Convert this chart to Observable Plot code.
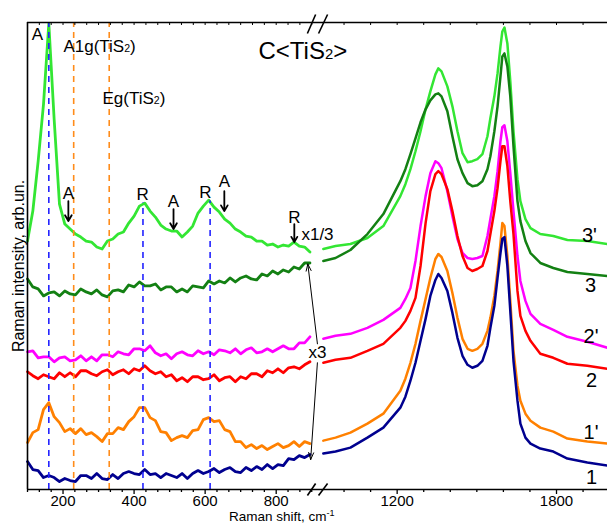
<!DOCTYPE html>
<html><head><meta charset="utf-8">
<script src="https://cdn.jsdelivr.net/npm/d3@7"></script>
<script src="https://cdn.jsdelivr.net/npm/@observablehq/plot@0.6"></script>
<style>
html,body{margin:0;padding:0;background:#fff;overflow:hidden;}
#chart{position:relative;width:607px;height:524px;font-family:"Liberation Sans",Arial,sans-serif;color:#000;}
#chart svg{position:absolute;top:0;overflow:visible;}
#xtitle{position:absolute;left:229px;top:510px;font-size:13.5px;white-space:nowrap;line-height:13px;}
#xtitle sup{font-size:9px;vertical-align:5px;line-height:0;}
</style></head><body><div id="chart"><div id="xtitle">Raman shift, cm<sup>-1</sup></div></div>
<script>
// ---- series ----
const seriesNames = ["3'", "3", "2'", "2", "1'", "1"];
const seriesColors = ["#33e633", "#138013", "#ff00ff", "#ff0000", "#ff8000", "#00008f"];

// left panel, Raman shift (cm-1)
const shiftLeft = [100,115,130,145,160,175,190,205,220,235,250,265,280,295,310,325,340,355,370,385,400,415,430,445,460,475,490,505,520,535,550,565,580,595,610,625,640,655,670,685,700,715,730,745,760,775,790,805,820,835,850,865,880,895];
const int3pLeft = [249,279,329,386,467,371,286,266,261,256,253,249,248,243,241,249,251,256,258,267,274,284,287,279,273,265,261,259,259,253,258,264,277,284,290,283,278,271,267,261,258,254,253,249,249,245,246,243,245,244,248,244,243,238];
const int3Left = [211,203,201,194,197,198,194,199,196,195,201,198,196,200,195,193,199,200,198,205,203,208,204,204,206,200,203,203,198,201,198,204,203,202,209,206,209,207,212,208,212,214,211,210,216,214,219,216,220,218,223,221,227,227];
const int2pLeft = [138,139,132,133,133,128,132,133,129,130,134,129,133,129,135,135,133,138,136,135,141,141,139,144,137,134,136,131,136,138,135,134,139,136,138,135,140,139,137,141,136,140,142,137,138,141,138,141,144,141,141,147,147,153];
const int2Left = [118,114,111,115,113,111,117,113,117,113,119,119,116,114,118,120,115,118,120,116,121,119,124,119,116,118,113,115,109,112,108,113,113,110,111,115,109,112,113,108,113,111,116,116,113,119,117,121,117,122,123,121,125,128];
const int1pLeft = [47,57,60,80,87,73,67,58,61,56,61,55,57,53,48,56,56,62,60,68,73,82,82,72,69,58,57,49,52,54,52,59,60,70,72,68,69,60,58,48,48,42,45,41,44,40,43,46,42,44,48,43,48,46];
const int1Left = [28,20,19,12,14,12,8,11,9,8,14,14,11,16,11,10,15,11,16,18,16,15,20,15,16,12,16,14,12,16,11,16,19,16,18,21,17,20,22,18,17,22,19,23,20,25,21,25,24,31,30,34,32,35];

// right panel, Raman shift (cm-1)
const shiftRight = [922,968,1024,1088,1148,1212,1231,1250,1269,1288,1307,1325,1344,1355,1367,1389,1408,1427,1446,1465,1483,1502,1521,1540,1551,1566,1578,1589,1596,1604,1615,1626,1638,1653,1664,1683,1702,1739,1788,1841,1916,1992];
const int3pRight = [241,244,246,252,264,294,306,321,339,359,381,399,416,422,419,404,384,359,337,328,329,331,336,354,372,394,417,444,459,463,447,409,359,311,289,271,262,256,254,250,249,246];
const int3Right = [229,232,240,256,276,309,321,336,352,368,381,390,396,397,394,379,354,331,317,307,304,305,309,321,334,359,384,414,434,437,424,394,344,289,269,249,237,227,222,218,216,214];
const int2pRight = [151,154,156,162,170,182,191,202,229,264,294,317,329,327,322,299,274,251,237,232,231,232,234,254,271,294,319,349,363,365,349,317,279,234,209,189,176,166,160,153,148,142];
const int2Right = [127,130,132,139,146,162,169,179,192,224,267,299,316,319,316,301,279,254,234,222,219,221,224,239,256,279,302,329,344,344,324,289,256,199,174,159,149,136,132,126,124,121];
const int1pRight = [49,52,57,66,76,99,111,127,146,169,191,212,231,236,233,219,197,172,151,141,139,141,146,159,172,194,219,247,267,264,234,189,139,104,89,76,69,62,58,51,48,46];
const int1Right = [36,38,42,52,62,82,93,109,127,149,171,194,210,216,212,199,177,152,134,125,122,124,129,144,162,184,212,237,251,253,224,179,129,89,66,52,46,41,38,31,27,24];

// ticks
const leftMajorTicks = [200, 400, 600, 800];
const leftMinorTicks = [100,133.33,166.67,233.33,266.67,300,333.33,366.67,433.33,466.67,500,533.33,566.67,633.33,666.67,700,733.33,766.67,833.33,866.67,900];
const rightMajorTicks = [1200, 1800];
const rightMinorTicks = [1000,1100,1300,1400,1500,1600,1700,1900];

// reference lines (cm-1) and the height they reach
const blueLines = [160, 425, 614];
const blueLineTops = [468, 287, 289];
const orangeLines = [230, 330];

// annotations
const peakLabels = ["A", "R", "A", "R", "A", "R"];
const peakLabelX = [215, 424, 511, 601, 654, 851];
const peakLabelY = [297, 296, 289, 298, 309, 273];
const arrowX = [215, 511, 654, 851];
const arrowTop = [289, 281, 299, 266];
const arrowBottom = [269, 261, 279, 248];
const curveLabelX = [1924, 1928, 1930, 1932, 1930, 1932];
const curveLabelY = [254, 204, 153, 109, 57, 12];

const font = '"Liberation Sans", Arial, sans-serif';
const yDomain = [0, 468];
const color = {type: "ordinal", domain: seriesNames, range: seriesColors};

const leftSeries = [int3pLeft, int3Left, int2pLeft, int2Left, int1pLeft, int1Left];
const rightSeries = [int3pRight, int3Right, int2pRight, int2Right, int1pRight, int1Right];
const leftRows = seriesNames.flatMap((s, i) => shiftLeft.map((x, j) => ({shift: x, intensity: leftSeries[i][j], series: s})));
const rightRows = seriesNames.flatMap((s, i) => shiftRight.map((x, j) => ({shift: x, intensity: rightSeries[i][j], series: s})));

const blueRows = blueLines.map((x, i) => ({x, top: blueLineTops[i]}));
const peakRows = peakLabels.map((t, i) => ({text: t, x: peakLabelX[i], y: peakLabelY[i]}));
const arrowRows = arrowX.map((x, i) => ({x, y1: arrowTop[i], y2: arrowBottom[i]}));
const curveRows = seriesNames.map((t, i) => ({text: t, x: curveLabelX[i], y: curveLabelY[i]}));
const bandLabels = [
  {text: "A1g(TiS2)", x: 201, y: 444},
  {text: "Eg(TiS2)", x: 311, y: 392},
  {text: "x1/3", x: 871, y: 255},
  {text: "x3", x: 891, y: 137}
];
const scaleArrows = [
  {x1: 916, y1: 146, x2: 889, y2: 226},
  {x1: 916, y1: 127, x2: 897, y2: 30}
];
const breakMarks = [
  {x1: 862, y1: 457, x2: 893, y2: 476},
  {x1: 904, y1: 457, x2: 938, y2: 476},
  {x1: 862, y1: -6, x2: 893, y2: 6},
  {x1: 904, y1: -6, x2: 938, y2: 6}
];

const common = {
  height: 524, marginTop: 22, marginBottom: 35, marginRight: 0,
  y: {domain: yDomain, axis: null},
  color,
  style: {background: "transparent", overflow: "visible", fontFamily: font, fontSize: "15px", color: "black"}
};

const left = Plot.plot({
  ...common,
  width: 313, marginLeft: 27,
  x: {domain: [100, 905]},
  marks: [
    Plot.line(leftRows, {x: "shift", y: "intensity", z: "series", stroke: "series", strokeWidth: 2.8, strokeLinejoin: "round"}),
    Plot.ruleX(blueRows, {x: "x", y1: 0, y2: "top", stroke: "#2323ff", strokeWidth: 1.6, strokeDasharray: "6,5"}),
    Plot.ruleX(orangeLines, {y1: 0, y2: 468, stroke: "#ff8c1a", strokeWidth: 1.6, strokeDasharray: "6,5"}),
    Plot.ruleY([0], {stroke: "black", strokeWidth: 1.6}),
    Plot.ruleY([468], {stroke: "black", strokeWidth: 1.6}),
    Plot.ruleX([100], {stroke: "black", strokeWidth: 1.6}),
    Plot.axisX(leftMajorTicks, {anchor: "bottom", tickSize: 5, tickPadding: 1, fontSize: 15, label: null, tickFormat: d => String(d), strokeWidth: 1.3}),
    Plot.axisX(leftMinorTicks, {anchor: "bottom", tickSize: 3, tickPadding: 1, label: null, tickFormat: () => "", strokeWidth: 1.3}),
    Plot.ruleX(leftMajorTicks.concat(leftMinorTicks), {y1: 468, y2: 465, stroke: "black", strokeWidth: 1}),
    Plot.text(["A"], {x: 128, y: 456, text: d => d, fontSize: 17}),
    Plot.text(bandLabels, {x: "x", y: "y", text: "text", textAnchor: "start", fontSize: 17}),
    Plot.text(["C<TiS2>"], {x: 750, y: 439, text: d => d, textAnchor: "start", fontSize: 24}),
    Plot.text(peakRows, {x: "x", y: "y", text: "text", fontSize: 17}),
    Plot.arrow(arrowRows, {x1: "x", x2: "x", y1: "y1", y2: "y2", stroke: "black", strokeWidth: 1.8, headLength: 7}),
    Plot.arrow(scaleArrows, {x1: "x1", y1: "y1", x2: "x2", y2: "y2", stroke: "black", strokeWidth: 1, headLength: 11, headAngle: 40}),
    Plot.text(["Raman intensity, arb.un."], {x: 76, y: 224, text: d => d, rotate: -90, fontSize: 16})
  ]
});

const right = Plot.plot({
  ...common,
  width: 294, marginLeft: 0,
  x: {domain: [885, 1992]},
  marks: [
    Plot.line(rightRows, {x: "shift", y: "intensity", z: "series", stroke: "series", strokeWidth: 2.5, strokeLinejoin: "round"}),
    Plot.ruleY([0], {stroke: "black", strokeWidth: 1.6}),
    Plot.ruleY([468], {stroke: "black", strokeWidth: 1.6}),
    Plot.axisX(rightMajorTicks, {anchor: "bottom", tickSize: 5, tickPadding: 1, fontSize: 15, label: null, tickFormat: d => String(d), strokeWidth: 1.3}),
    Plot.axisX(rightMinorTicks, {anchor: "bottom", tickSize: 3, tickPadding: 1, label: null, tickFormat: () => "", strokeWidth: 1.3}),
    Plot.ruleX(rightMajorTicks.concat(rightMinorTicks), {y1: 468, y2: 465, stroke: "black", strokeWidth: 1}),
    Plot.link(breakMarks, {x1: "x1", y1: "y1", x2: "x2", y2: "y2", stroke: "black", strokeWidth: 1.6}),
    Plot.text(curveRows, {x: "x", y: "y", text: "text", fontSize: 20})
  ]
});
right.style.left = "313px";
left.style.left = "0px";

const chart = document.getElementById("chart");
chart.appendChild(left);
chart.appendChild(right);

// subscripts
const esc = s => s.replace(/&/g, "&amp;").replace(/</g, "&lt;").replace(/>/g, "&gt;");
chart.querySelectorAll("text").forEach(el => {
  const t = el.textContent;
  if (t.includes("TiS2")) el.innerHTML = esc(t).replace("TiS2", 'TiS<tspan font-size="0.62em">2</tspan>');
});
</script></body></html>
